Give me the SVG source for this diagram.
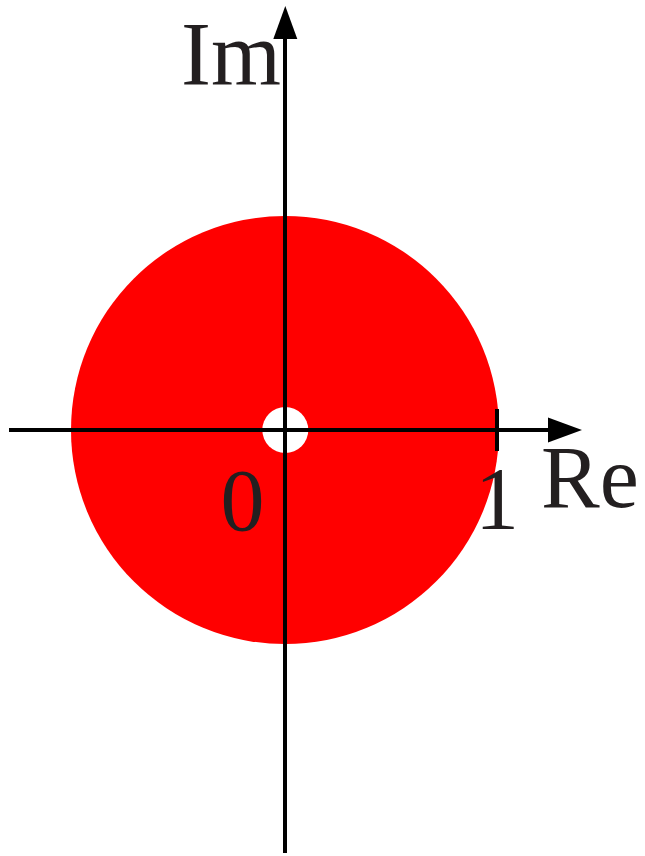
<svg xmlns="http://www.w3.org/2000/svg" width="645" height="856" viewBox="0 0 645 856">
<style>
.lbl{font-family:"Liberation Serif","DejaVu Serif",serif;font-size:88px;fill:#231f20}
.ax{stroke:#000;stroke-width:4;fill:none}
</style>
<rect width="645" height="856" fill="#fff"/>
<g id="disk">
<circle cx="285" cy="430" r="214" fill="#ff0000"/>
<circle cx="285.3" cy="430" r="23" fill="#fff"/>
</g>
<g id="axes">
<line class="ax" x1="9" y1="430" x2="552" y2="430"/>
<polygon points="582,430 548,417.5 548,442.5" fill="#000"/>
<line class="ax" x1="285" y1="853" x2="285" y2="36"/>
<polygon points="285.3,6 273.3,39 297.3,39" fill="#000"/>
<line class="ax" x1="497" y1="409" x2="497" y2="451"/>
</g>
<g id="labels">
<text class="lbl" x="181" y="85" style="font-size:90px">Im</text>
<text class="lbl" x="541" y="507">Re</text>
<text class="lbl" x="497" y="528" text-anchor="middle">1</text>
<text class="lbl" x="242.5" y="530" text-anchor="middle">0</text>
</g>
</svg>
